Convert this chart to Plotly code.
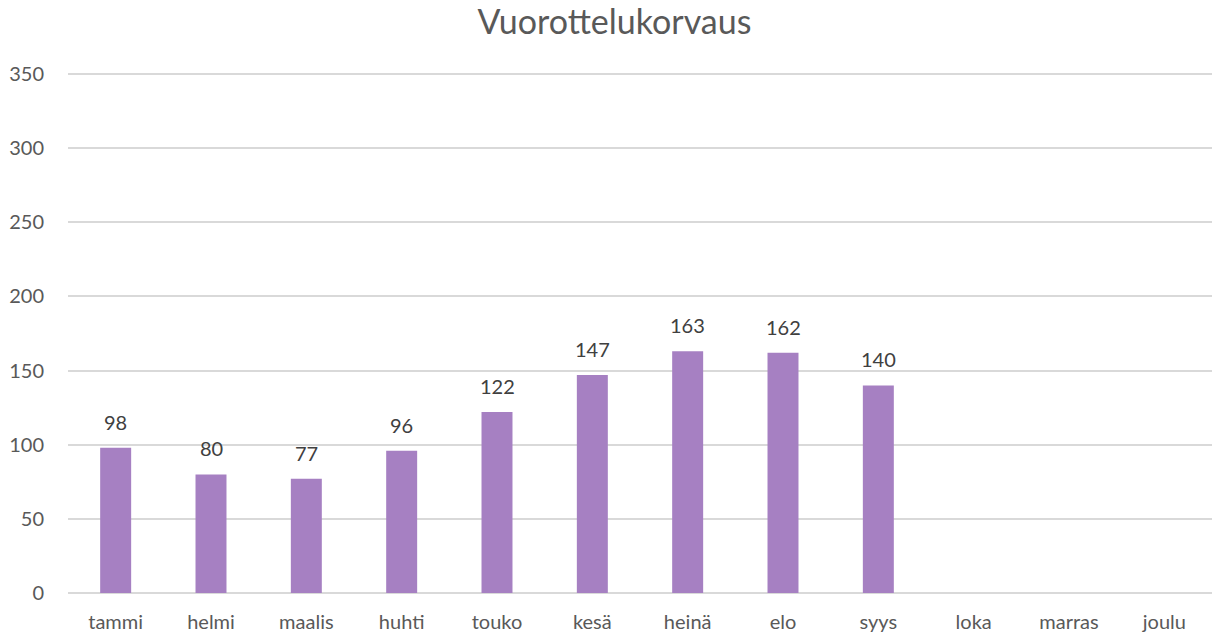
import plotly.graph_objects as go

months = ["tammi", "helmi", "maalis", "huhti", "touko", "kesä", "heinä", "elo", "syys", "loka", "marras", "joulu"]
values = [98, 80, 77, 96, 122, 147, 163, 162, 140, None, None, None]
y_ticks = [0, 50, 100, 150, 200, 250, 300, 350]

FONT = "Lato, 'Open Sans', sans-serif"
TXT = "#595959"

fig = go.Figure()
fig.add_trace(go.Bar(x=months, y=values, marker_color="#A680C2", marker_line_width=0, hoverinfo="x+y"))

for m, v in zip(months, values):
    if v is not None:
        fig.add_annotation(x=m, y=v, text=str(v), showarrow=False, yanchor="bottom", yshift=12,
                           font=dict(family=FONT, size=20, color="#404040"))

fig.update_layout(
    width=1212, height=639,
    paper_bgcolor="white", plot_bgcolor="white",
    margin=dict(l=68, r=0, t=73, b=46),
    bargap=0.675,
    showlegend=False,
    title=dict(text="Vuorottelukorvaus", x=0.507, xanchor="center", y=0.966, yanchor="middle",
               font=dict(family=FONT, size=34, color=TXT)),
    xaxis=dict(tickfont=dict(family=FONT, size=20, color=TXT), showgrid=False, showline=False,
               ticks="", ticklabelstandoff=15),
    yaxis=dict(range=[0, 350.7], tickvals=y_ticks, showgrid=True, gridcolor="#D9D9D9", gridwidth=1.5,
               zeroline=True, zerolinecolor="#D9D9D9", zerolinewidth=1.5,
               tickfont=dict(family=FONT, size=20, color=TXT), ticklabelstandoff=23, showline=False),
)

fig.write_html("out.html", config={"displayModeBar": False},
               post_script="document.body.style.margin='0';")
